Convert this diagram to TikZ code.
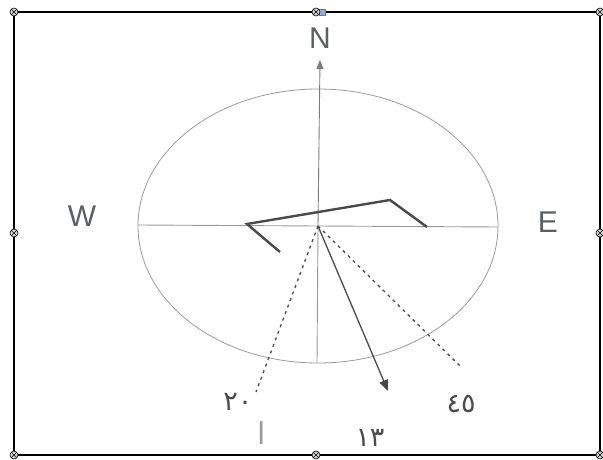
\documentclass[tikz,border=0pt]{standalone}
\usepackage{fontspec}
\setmainfont{Liberation Sans}
\newfontfamily\arabicfont[Script=Arabic]{DejaVu Sans}
\usetikzlibrary{arrows.meta}
\definecolor{compassink}{HTML}{4A4A4A}
\definecolor{compassgrey}{HTML}{9A9A9A}
\definecolor{letterink}{HTML}{5A5F66}
\definecolor{handleblue}{HTML}{8FB0DA}

\begin{document}
\begin{tikzpicture}[
  x=1pt, y=-1pt,
  frame/.style={draw=black, line width=1.6pt},
  axisline/.style={draw=compassgrey, line width=0.9pt},
  ringline/.style={draw=compassgrey, line width=0.8pt},
  needle/.style={draw=compassink, line width=2.4pt, line join=miter},
  north/.style={-{Triangle[length=9pt, width=7pt]}, draw=compassgrey!80!black, line width=0.9pt},
  bearing/.style={-{Triangle[length=11pt, width=9pt]}, draw=compassink, line width=1.3pt},
  dotted line/.style={draw=compassink, line width=1.3pt, dash pattern=on 3pt off 4pt},
  letter/.style={font=\fontsize{30}{30}\selectfont, text=letterink, inner sep=0pt},
  numeral/.style={font=\arabicfont\fontsize{27}{27}\selectfont, text=compassink, inner sep=0pt},
  handle/.style={circle, draw=black, fill=gray!30, line width=0.6pt, minimum size=8pt, inner sep=0pt,
    path picture={\draw[line width=0.6pt] (path picture bounding box.north west) -- (path picture bounding box.south east)
      (path picture bounding box.north east) -- (path picture bounding box.south west);}}
]
\useasboundingbox (0,0) rectangle (603,460);

% frame and its handles
\draw[frame] (14,12) rectangle (600,455);
\node[draw=handleblue!70!black, fill=handleblue, minimum size=6pt, inner sep=0pt] (grip) at (322,12) {};
\foreach \hx/\hy [count=\i] in {14/12, 316/12, 600/12, 14/233, 600/233, 14/455, 316/455, 600/455}
  \node[handle] (h\i) at (\hx,\hy) {};

% compass
\coordinate (c) at (318,226);
\draw[ringline] (c) ellipse [x radius=180pt, y radius=137pt];
\coordinate (west) at (138,225);
\coordinate (east) at (498,227);
\coordinate (south) at (317,363);
\coordinate (northtip) at (320,60);
\draw[axisline] (west) -- (east);
\draw[axisline] (c) -- (south);
\draw[north] (c) -- (northtip);

\node[letter] (n) at (320,38) {N};
\node[letter] (w) at (82,216) {W};
\node[letter] (e) at (548,222) {E};

% bent line
\coordinate (p1) at (280,252);
\coordinate (p2) at (247,224);
\coordinate (p3) at (390,200);
\coordinate (p4) at (427,227);
\draw[needle] (p1) -- (p2) -- (p3) -- (p4);

% bearings
\node[numeral] (b20) at (238,402) {٢٠};
\node[numeral] (b13) at (370,438) {١٣};
\node[numeral] (b45) at (461,404) {٤٥};
\node[numeral, font=\arabicfont\fontsize{30}{30}\selectfont, text=compassgrey] (alif) at (262,433) {ا};

\coordinate (end20) at (256,392);
\coordinate (end13) at (388,391);
\coordinate (end45) at (460,366);
\draw[dotted line] (c) -- (end20);
\draw[dotted line] (c) -- (end45);
\draw[bearing] (c) -- (end13);

\end{tikzpicture}
\end{document}
